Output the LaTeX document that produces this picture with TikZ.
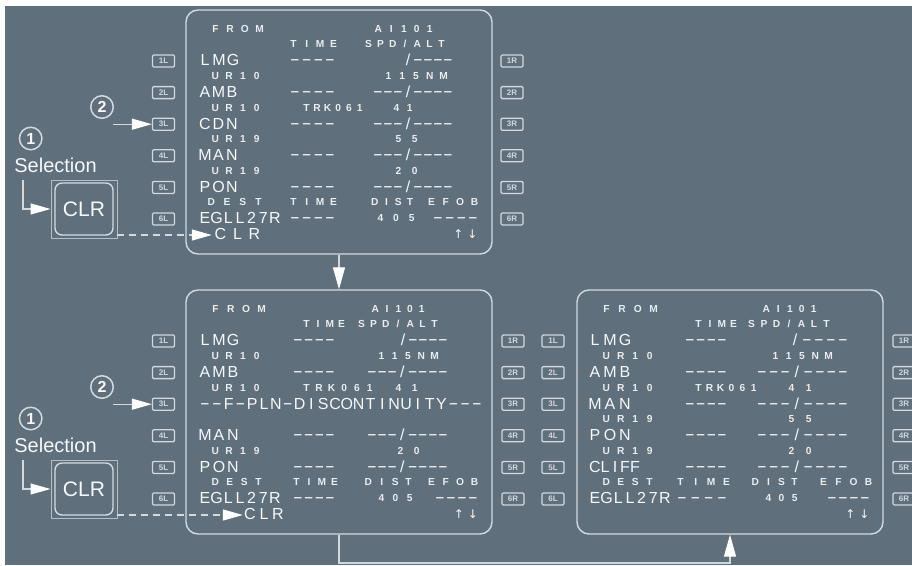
\documentclass[tikz,border=0pt]{standalone}
\usepackage{fontspec}
\setmainfont{Liberation Sans}
\newfontfamily\arrowfam{DejaVu Sans}
\usepackage{graphicx}
\usetikzlibrary{arrows.meta}
\definecolor{bgc}{HTML}{5F6F7C}
\definecolor{txc}{HTML}{F6F8FA}
\definecolor{frc}{HTML}{D3D9DF}
\definecolor{kyc}{HTML}{D2D8DE}
\newdimen\mycw
\newdimen\mywavg
\newcount\mynch
\newcount\mytid
\def\mycount#1{\ifx#1\relax\else\advance\mynch by 1 \expandafter\mycount\fi}
\newcommand\mycellbox[1]{\makebox[\mycw][c]{\ifx-#1\raisebox{0.9pt}{\scalebox{1.9}[1]{-}}\else#1\fi}}
\def\mycells#1{\ifx#1\relax\else\mycellbox{#1}\expandafter\mycells\fi}
\newcommand\fitv[2]{\mynch=0 \mycount#2\relax
 \ifnum\mynch>1 \mycw=#1pt \advance\mycw by -\mywavg \advance\mynch by -1 \divide\mycw by \mynch \else \mycw=#1pt \fi
 \mycells#2\relax}
\newcommand\mt[5]{\global\advance\mytid by 1 \node[#1] (t\the\mytid) at ({#2},{\mybt+18.4+15.8*#3}) {\fitv{#4}{#5}};}
\newcommand\bigfnt{\fontsize{16}{16}\selectfont\mywavg=10pt\relax}
\newcommand\smlfnt{\bfseries\fontsize{10.2}{10.2}\selectfont\mywavg=6.8pt\relax}
\newcommand\arwfnt{\arrowfam\fontsize{12}{12}\selectfont\mywavg=7pt\relax}
\tikzset{
  big/.style={text=txc, inner sep=0pt, anchor=base, yshift=-5.8pt, font=\bigfnt},
  sml/.style={text=txc!92!bgc, inner sep=0pt, anchor=base, yshift=-3.7pt, font=\smlfnt},
  arw/.style={text=txc, inner sep=0pt, anchor=base, yshift=-4.5pt, font=\arwfnt},
  screen/.style={draw=frc, line width=1.4pt, rounded corners=12pt, minimum width=306pt, minimum height=244pt, inner sep=0pt},
  key/.style={draw=kyc, line width=1.3pt, rounded corners=1.2pt, minimum width=22pt, minimum height=12pt, inner sep=0pt, text=kyc, font=\bfseries\fontsize{8}{8}\selectfont},
  clrout/.style={draw=kyc!75!bgc, line width=1pt, minimum width=66pt, minimum height=58pt, inner sep=0pt},
  clrin/.style={draw=frc, line width=1.4pt, rounded corners=7pt, minimum width=58pt, minimum height=52pt, inner sep=0pt, text=txc, font=\fontsize{21}{21}\selectfont},
  num/.style={circle, draw=frc, line width=1.5pt, minimum size=22.5pt, inner sep=0pt, text=txc, font=\bfseries\fontsize{16}{16}\selectfont},
  sel/.style={inner sep=0pt, text=txc, font=\fontsize{20}{20}\selectfont},
  conn/.style={draw=frc, line width=1.3pt, -{Triangle[length=20pt,width=11pt,color=white]}},
  dconn/.style={conn, dash pattern=on 7pt off 5pt},
  vconn/.style={draw=frc, line width=1.3pt, -{Triangle[length=22pt,width=12pt,color=white]}},
}
\begin{document}
\begin{tikzpicture}[x=1pt,y=-1pt]
\useasboundingbox (0,0) rectangle (912,565);
\clip (0,0) rectangle (912,565);
\fill[white] (0,0) rectangle (912,565);
\fill[bgc] (5,6) rectangle (912,565);

% screens
\node[screen] (scrA) at (339,132) {};
\node[screen] (scrB) at (339,412) {};
\node[screen] (scrC) at (730,412) {};

% keys
\foreach \i in {1,...,6} {
  \node[key] (AL\i) at (163.5,{10+18.4+15.8*(2*\i)+1}) {\i L};
  \node[key] (AR\i) at (512,{10+18.4+15.8*(2*\i)+1}) {\i R};
  \node[key] (BL\i) at (163.5,{290+18.4+15.8*(2*\i)+1}) {\i L};
  \node[key] (BR\i) at (513,{290+18.4+15.8*(2*\i)+1}) {\i R};
  \node[key] (CL\i) at (553,{290+18.4+15.8*(2*\i)+1}) {\i L};
  \node[key] (CR\i) at (904,{290+18.4+15.8*(2*\i)+1}) {\i R};
}

% ---------- screen A ----------
\def\mybt{10}
\mt{sml}{237.5}{0}{51}{FROM}
\mt{sml}{404}{0}{58}{AI101}
\mt{sml}{313.5}{1}{47}{TIME}
\mt{sml}{405}{1}{80}{SPD/ALT}
\mt{big}{219}{2}{38}{LMG}
\mt{big}{312.5}{2}{45}{----}
\mt{big}{428}{2}{50}{/----}
\mt{sml}{236}{3}{48}{UR10}
\mt{sml}{416}{3}{62}{115NM}
\mt{big}{218.5}{4}{37}{AMB}
\mt{big}{312.5}{4}{45}{----}
\mt{big}{413}{4}{80}{---/----}
\mt{sml}{236}{5}{48}{UR10}
\mt{sml}{333}{5}{60}{TRK061}
\mt{sml}{403}{5}{20}{41}
\mt{big}{218.5}{6}{37}{CDN}
\mt{big}{312.5}{6}{45}{----}
\mt{big}{413}{6}{80}{---/----}
\mt{sml}{236}{7}{48}{UR19}
\mt{sml}{406.5}{7}{23}{55}
\mt{big}{218.5}{8}{37}{MAN}
\mt{big}{312.5}{8}{45}{----}
\mt{big}{413}{8}{80}{---/----}
\mt{sml}{236}{9}{48}{UR19}
\mt{sml}{406.5}{9}{23}{20}
\mt{big}{218.5}{10}{37}{PON}
\mt{big}{312.5}{10}{45}{----}
\mt{big}{413}{10}{80}{---/----}
\mt{sml}{235}{11}{54}{DEST}
\mt{sml}{313.5}{11}{47}{TIME}
\mt{sml}{392.5}{11}{42}{DIST}
\mt{sml}{453}{11}{50}{EFOB}
\mt{big}{240}{12}{80}{EGLL27R}
\mt{big}{312.5}{12}{45}{----}
\mt{sml}{396}{12}{38}{405}
\mt{big}{455.5}{12}{45}{----}
\node[big] (spA) at (237.5,{\mybt+18.4+15.8*13}) {\fitv{44}{CLR}};
\mt{arw}{465.5}{13}{21}{↑↓}

% ---------- screen B ----------
\def\mybt{290}
\mt{sml}{238.5}{0}{53}{FROM}
\mt{sml}{398.5}{0}{53}{AI101}
\mt{sml}{324}{1}{42}{TIME}
\mt{sml}{398}{1}{80}{SPD/ALT}
\mt{big}{219}{2}{38}{LMG}
\mt{big}{314}{2}{42}{----}
\mt{big}{423}{2}{50}{/----}
\mt{sml}{236}{3}{48}{UR10}
\mt{sml}{408}{3}{60}{115NM}
\mt{big}{219}{4}{38}{AMB}
\mt{big}{314}{4}{42}{----}
\mt{big}{407.5}{4}{81}{---/----}
\mt{sml}{236}{5}{48}{UR10}
\mt{sml}{338}{5}{70}{TRK061}
\mt{sml}{406.5}{5}{23}{41}
\mt{big}{341}{6}{282}{--F-PLN-DISCONTINUITY---}
\mt{big}{219}{8}{38}{MAN}
\mt{big}{314}{8}{42}{----}
\mt{big}{407.5}{8}{81}{---/----}
\mt{sml}{236}{9}{48}{UR19}
\mt{sml}{408.5}{9}{23}{20}
\mt{big}{219}{10}{38}{PON}
\mt{big}{314}{10}{42}{----}
\mt{big}{407.5}{10}{81}{---/----}
\mt{sml}{237}{11}{50}{DEST}
\mt{sml}{315.5}{11}{45}{TIME}
\mt{sml}{388.5}{11}{47}{DIST}
\mt{sml}{453}{11}{50}{EFOB}
\mt{big}{240}{12}{80}{EGLL27R}
\mt{big}{314}{12}{42}{----}
\mt{sml}{395.5}{12}{35}{405}
\mt{big}{456.5}{12}{43}{----}
\node[big] (spB) at (264,{\mybt+18.4+15.8*13}) {\fitv{38}{CLR}};
\mt{arw}{466}{13}{21}{↑↓}

% ---------- screen C ----------
\mt{sml}{630}{0}{54}{FROM}
\mt{sml}{790}{0}{54}{AI101}
\mt{sml}{716}{1}{42}{TIME}
\mt{sml}{789}{1}{82}{SPD/ALT}
\mt{big}{610}{2}{40}{LMG}
\mt{big}{706}{2}{42}{----}
\mt{big}{819}{2}{58}{/----}
\mt{sml}{628}{3}{50}{UR10}
\mt{sml}{802}{3}{60}{115NM}
\mt{big}{610}{4}{40}{AMB}
\mt{big}{706}{4}{42}{----}
\mt{big}{802.5}{4}{91}{---/----}
\mt{sml}{628}{5}{50}{UR10}
\mt{sml}{726}{5}{62}{TRK061}
\mt{sml}{800}{5}{24}{41}
\mt{big}{610}{6}{40}{MAN}
\mt{big}{706}{6}{42}{----}
\mt{big}{802.5}{6}{91}{---/----}
\mt{sml}{628}{7}{50}{UR19}
\mt{sml}{800}{7}{24}{55}
\mt{big}{610}{8}{40}{PON}
\mt{big}{706}{8}{42}{----}
\mt{big}{802.5}{8}{91}{---/----}
\mt{sml}{628}{9}{50}{UR19}
\mt{sml}{800}{9}{24}{20}
\mt{big}{615}{10}{50}{CLIFF}
\mt{big}{706}{10}{42}{----}
\mt{big}{802.5}{10}{91}{---/----}
\mt{sml}{628}{11}{50}{DEST}
\mt{sml}{703.5}{11}{53}{TIME}
\mt{sml}{775}{11}{46}{DIST}
\mt{sml}{846}{11}{52}{EFOB}
\mt{big}{630}{12}{80}{EGLL27R}
\mt{big}{702}{12}{50}{----}
\mt{sml}{781.5}{12}{33}{405}
\mt{big}{848.5}{12}{43}{----}
\mt{arw}{857.5}{13}{21}{↑↓}

% ---------- left annotations, top ----------
\node[num] (c1A) at (30.7,138.5) {1};
\node[num] (c2A) at (102,107) {2};
\node[sel] (selA) at (55.5,165) {Selection};
\node[clrout] (kA) at (84,209) {};
\node[clrin] (kAi) at (84,209) {CLR};
\coordinate (sA) at (23,180);
\draw[conn] (sA) |- (kA.west);
\coordinate (pA) at (113,124.2);
\draw[conn] (pA) -- (pA -| AL3.west);
\coordinate (dA) at (117,235);
\draw[dconn] (dA) -- (dA -| spA.west);

% ---------- left annotations, bottom ----------
\node[num] (c1B) at (30.7,418.5) {1};
\node[num] (c2B) at (102,387) {2};
\node[sel] (selB) at (55.5,445) {Selection};
\node[clrout] (kB) at (84,489) {};
\node[clrin] (kBi) at (84,489) {CLR};
\coordinate (sB) at (23,460);
\draw[conn] (sB) |- (kB.west);
\coordinate (pB) at (113,404.2);
\draw[conn] (pB) -- (pB -| BL3.west);
\coordinate (dB) at (117,515);
\draw[dconn] (dB) -- (dB -| spB.west);

% ---------- flow connectors ----------
\draw[vconn] (scrA.south) -- (scrB.north);
\coordinate (bot) at (0,563);
\draw[vconn] (scrB.south) -- (scrB.south |- bot) -| (scrC.south);
\end{tikzpicture}
\end{document}
